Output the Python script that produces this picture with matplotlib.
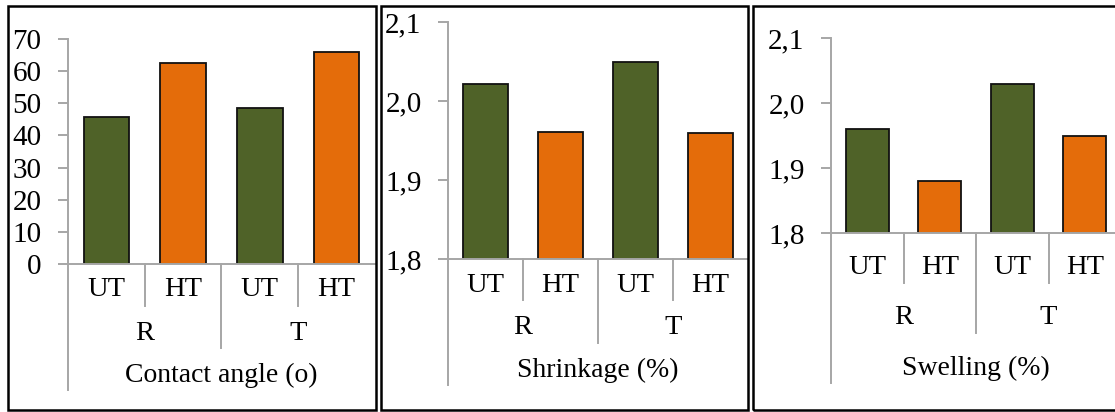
import matplotlib.pyplot as plt
from matplotlib.transforms import blended_transform_factory
from matplotlib.patches import Rectangle

plt.rcParams['font.family'] = ['Liberation Serif', 'DejaVu Serif']

# données
treatments = ["UT", "HT", "UT", "HT"]
groups = ["R", "T"]
contact_angle = [45.6, 62.4, 48.6, 66.0]
shrinkage = [2.022, 1.961, 2.05, 1.96]
swelling = [1.96, 1.88, 2.03, 1.95]

ca_ticks = [0, 10, 20, 30, 40, 50, 60, 70]
ca_labels = ["0", "10", "20", "30", "40", "50", "60", "70"]
pct_ticks = [1.8, 1.9, 2.0, 2.1]
pct_labels = ["1,8", "1,9", "2,0", "2,1"]

titles = ["Contact angle (o)", "Shrinkage (%)", "Swelling (%)"]

GREEN = "#4f6228"
ORANGE = "#e46c0a"
GRAY = "#a6a6a6"
bar_colors = [GREEN, ORANGE, GREEN, ORANGE]

W, H = 1115, 412
fig = plt.figure(figsize=(W / 100, H / 100), dpi=100)


def fy(py):
    return 1 - py / H


# mise en page (pixels)
layout = [
    dict(left=68, right=375, top=39, base=264, rows=(290, 333, 375),
         ends=(390, 306, 348), frame=(8, 376)),
    dict(left=448, right=748, top=22, base=259, rows=(285, 328, 370),
         ends=(385, 300, 343), frame=(381, 748)),
    dict(left=831, right=1121, top=38, base=233, rows=(267, 317, 368),
         ends=(383, 283, 333), frame=(753, 1125)),
]
series = [contact_angle, shrinkage, swelling]
limits = [(0, 70), (1.8, 2.1), (1.8, 2.1)]
ticks = [(ca_ticks, ca_labels), (pct_ticks, pct_labels), (pct_ticks, pct_labels)]

for lay, vals, ylim, (tk, tl), title in zip(layout, series, limits, ticks, titles):
    # cadre du panneau
    x0, x1 = lay["frame"]
    fig.patches.append(Rectangle((x0 / W, fy(410)), (x1 - x0) / W, (410 - 6) / H,
                                 transform=fig.transFigure, fill=False,
                                 edgecolor="black", linewidth=1.8, zorder=0))

    ax = fig.add_axes([lay["left"] / W, fy(lay["base"]),
                       (lay["right"] - lay["left"]) / W, (lay["base"] - lay["top"]) / H])
    ax.patch.set_alpha(0)
    x = list(range(len(vals)))
    ax.bar(x, [v - ylim[0] for v in vals], bottom=ylim[0], width=0.59,
           color=bar_colors, edgecolor="#111111", linewidth=1.3, zorder=3)
    ax.set_xlim(-0.5, 3.5)
    ax.set_ylim(*ylim)

    for s in ["top", "right"]:
        ax.spines[s].set_visible(False)
    for s in ["left", "bottom"]:
        ax.spines[s].set_color(GRAY)
        ax.spines[s].set_linewidth(1.4)
        ax.spines[s].set_zorder(4)

    ax.set_yticks(tk, tl)
    ax.tick_params(axis="y", length=7, width=1.4, color=GRAY, pad=12, labelsize=21)
    ax.set_xticks([])

    # séparateurs de catégories
    tr = blended_transform_factory(ax.transData, fig.transFigure)
    long_end, short_end, mid_end = lay["ends"]
    for xb, end in [(-0.5, long_end), (0.5, short_end), (1.5, mid_end), (2.5, short_end)]:
        ax.plot([xb, xb], [fy(lay["base"]), fy(end)], transform=tr,
                color=GRAY, linewidth=1.4, clip_on=False)

    r1, r2, r3 = lay["rows"]
    for i, t in enumerate(treatments):
        ax.text(i, fy(r1), t, transform=tr, ha="center", va="center", fontsize=20.5)
    for j, g in enumerate(groups):
        ax.text(0.5 + 2 * j, fy(r2), g, transform=tr, ha="center", va="center", fontsize=20.5)
    ax.text(1.5, fy(r3), title, transform=tr, ha="center", va="center", fontsize=20)

fig.savefig("out.png", dpi=100)
plt.close(fig)
